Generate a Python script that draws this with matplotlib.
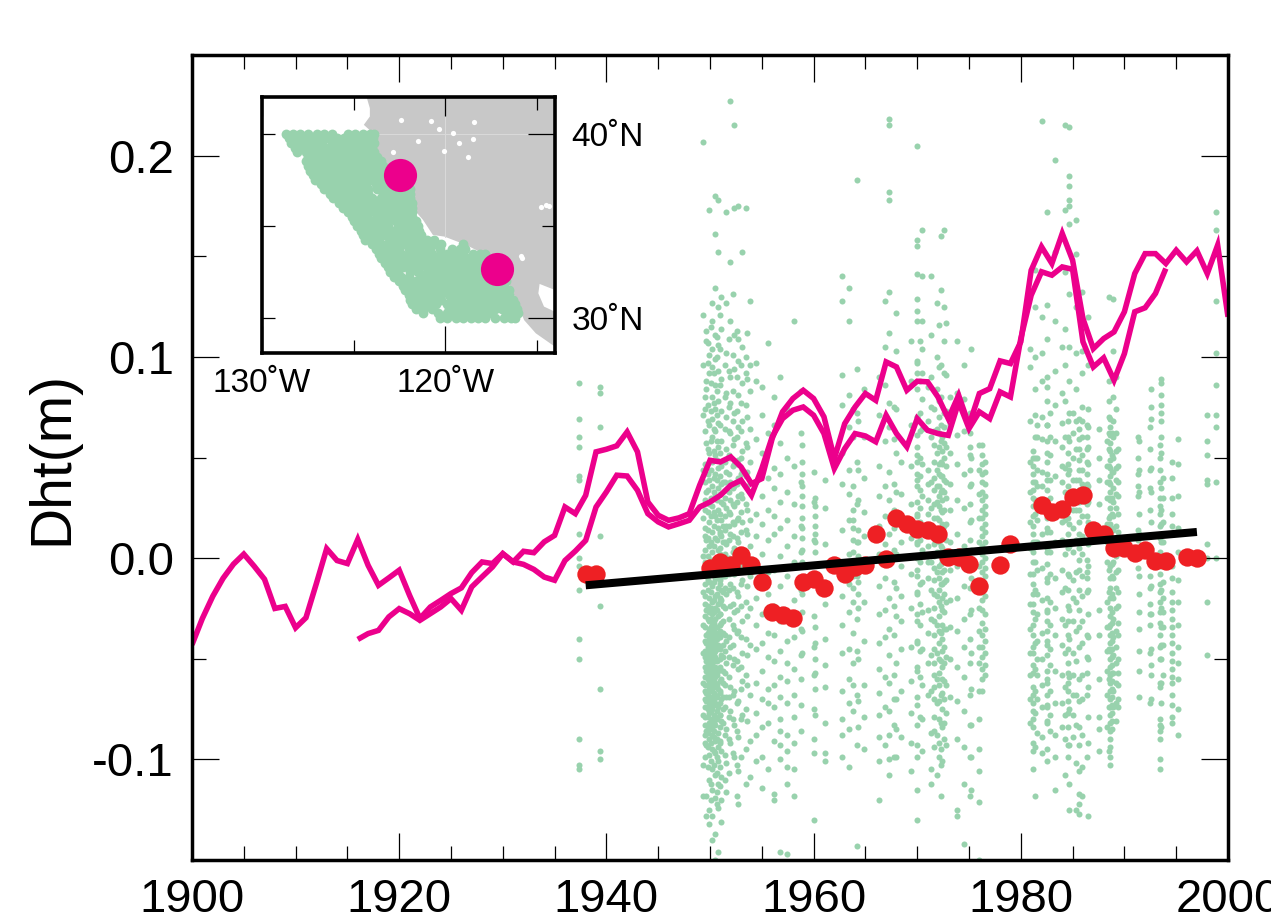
import numpy as np
import matplotlib
matplotlib.use("Agg")
import matplotlib.pyplot as plt
from matplotlib.ticker import MultipleLocator, FixedLocator, FixedFormatter

plt.rcParams['font.family'] = ['Liberation Sans', 'DejaVu Sans']

# yearly curves, metres
years_a = list(range(1900, 2001))
line_a = [-.043, -.030, -.019, -.010, -.003, .002, -.004, -.0105, -.025, -.024,
          -.0346, -.0296, -.0127, .0047, -.0012, -.0027, .0093, -.0036, -.0135, -.0098,
          -.006, -.0185, -.030, -.0243, -.021, -.0176, -.0148, -.0072, -.0019, -.0027,
          .0022, -.0019, .0034, .0027, .0081, .0113, .0254, .0221, .0312, .0528,
          .0541, .0558, .0627, .0528, .0279, .0213, .0188, .02, .0221, .0362,
          .0486, .0478, .0503, .0453, .037, .0395, .0594, .0727, .0793, .0834,
          .0793, .0702, .0495, .0668, .0751, .0818, .0784, .0975, .095, .0834,
          .0879, .0876, .0801, .0693, .0809, .066, .0818, .0842, .098, .0967,
          .1075, .143, .1547, .1464, .1613, .148, .119, .1041, .1091, .1124,
          .1224, .1414, .1513, .1513, .1464, .153, .1472, .1527, .1414, .1555, .1199]

years_b = list(range(1916, 1995))
line_b = [-.0404, -.0375, -.0359, -.0292, -.0251, -.0276, -.0309, -.0276, -.0243, -.0201,
          -.0259, -.0143, -.0093, -.0044, .0022, -.0019, -.0031, -.0056, -.0094, -.011,
          -.0012, .0035, .0088, .0254, .0329, .0412, .0408, .0337, .0221, .018,
          .0155, .0171, .0188, .0254, .0279, .0312, .0362, .0387, .0312, .0445,
          .0602, .0693, .0735, .0751, .071, .0619, .0445, .0544, .0619, .0607,
          .0578, .071, .0619, .0553, .0693, .0635, .0619, .061, .0776, .0644,
          .0727, .0693, .0826, .0801, .1091, .1306, .1423, .1406, .1447, .1435,
          .1075, .095, .0995, .0884, .1016, .1224, .1244, .1315, .1439]

red_years = [1938, 1939, 1950, 1951, 1952, 1953, 1954, 1955, 1956, 1957, 1958, 1959, 1960, 1961,
             1962, 1963, 1964, 1965, 1966, 1967, 1968, 1969, 1970, 1971, 1972, 1973, 1974, 1975,
             1976, 1978, 1979, 1982, 1983, 1984, 1985, 1986, 1987, 1988, 1989, 1990, 1991, 1992,
             1993, 1994, 1996, 1997]
red_vals = [-.0077, -.0077, -.005, -.002, -.0035, .0014, -.0035, -.0118, -.0267, -.0283, -.0296, -.0118,
            -.0105, -.0148, -.0035, -.0077, -.0044, -.0035, .0118, -.0003, .02, .0172, .0147, .0142,
            .0122, .0006, .0006, -.0027, -.0138, -.0032, .0072, .0262, .023, .0246, .0304, .0312,
            .0138, .0122, .0051, .0051, .0026, .0039, -.0016, -.0016, .0006, -.0001]

trend_years = [1938, 1997]
trend_vals = [-.0135, .013]

# tide gauge scatter, one column per sampling time, values in mm
green_years = [1937.4, 1939.4, 1949.3, 1949.6, 1949.9, 1950.2, 1950.5, 1950.8, 1951.1, 1951.5, 1951.9, 1952.3,
               1952.7, 1953.1, 1953.5, 1953.9, 1954.4, 1955.0, 1955.6, 1956.2, 1956.8, 1957.4, 1958.1, 1958.8,
               1960.0, 1961.1, 1962.7, 1963.4, 1964.2, 1964.9, 1966.3, 1966.9, 1967.3, 1968.0, 1969.4, 1970.0,
               1970.5, 1971.3, 1971.9, 1972.3, 1972.8, 1973.8, 1974.5, 1975.2, 1976.0, 1980.9, 1981.4, 1982.0,
               1982.5, 1983.3, 1984.3, 1984.7, 1985.3, 1985.9, 1986.5, 1988.5, 1988.9, 1989.2, 1991.4, 1992.6,
               1993.5, 1995.2, 1998.0, 1998.8]
green_mm = [
    [87, 69, 60, 55, 41, 39, 12, 0, -4, -16, -40, -50, -90, -103, -105],
    [85, 82, 65, 11, -24, -65, -96, -100],
    [207, 121, 96, 71, 44, 20, 1, -17, -33, -47, -62, -78, -103, -118],
    [113, 108, 88, 84, 57, 33, 9, -9, -26, -38, -42, -51, -56, -67, -71, -86, -93, -118, -128],
    [173, 101, 92, 66, 52, 39, 27, 18, 6, -3, -12, -20, -27, -31, -35, -39, -43, -45, -48, -52, -55, -58, -61, -64, -69, -73, -77, -82, -90, -98, -110, -125, -132],
    [127, 118, 104, 95, 80, 69, 60, 48, 36, 26, 13, 3, -5, -14, -22, -28, -33, -36, -40, -44, -47, -50, -53, -57, -60, -63, -66, -71, -75, -80, -84, -88, -95, -105, -115, -128, -140],
    [180, 161, 134, 111, 99, 86, 74, 63, 51, 42, 31, 21, 10, -1, -10, -19, -25, -30, -34, -38, -41, -46, -49, -54, -59, -62, -68, -72, -79, -83, -91, -97, -108, -119, -137, -150],
    [178, 152, 125, 106, 93, 78, 67, 55, 45, 35, 24, 15, 4, -7, -15, -23, -29, -37, -43, -56, -65, -74, -87, -94, -101, -112, -124, -146],
    [130, 114, 89, 73, 58, 46, 37, 28, 19, 11, -2, -16, -21, -32, -48, -60, -70, -81, -96, -109, -120, -131],
    [172, 127, 102, 82, 70, 54, 43, 34, 25, 16, 7, -6, -18, -41, -52, -69, -85, -102, -116],
    [227, 147, 118, 90, 77, 62, 50, 38, 29, 22, 12, -1, -13, -24, -44, -64, -76, -92],
    [215, 174, 111, 94, 72, 59, 47, 36, 26, 17, 5, -8, -27, -35, -50, -66, -83, -99],
    [175, 109, 98, 81, 65, 49, 40, 31, 20, 8, -5, -19, -36, -55, -71, -89, -106, -122],
    [152, 105, 87, 68, 53, 44, 30, 18, 2, -11, -31, -47, -61, -78],
    [174, 100, 92, 76, 57, 41, 27, 14, -3, -22, -40, -58, -75, -95, -112],
    [128, 96, 83, 64, 48, 33, 19, 6, -9, -25, -43, -68, -91, -109],
    [97, 88, 59, 38, 22, 11, -4, -20, -33, -45, -62, -77, -88, -101],
    [85, 71, 52, 31, 17, 2, -11, -28, -42, -56, -70, -84, -99, -114],
    [107, 62, 40, 24, 9, -7, -18, -37, -49, -65, -72, -82, -105],
    [80, 66, 45, 35, 21, 12, -6, -24, -38, -51, -63, -74, -91, -117, -120],
    [90, 57, 42, 28, 15, 1, -14, -31, -46, -59, -69, -80, -86, -93, -100, -146],
    [74, 50, 33, 19, 6, -9, -27, -41, -52, -61, -72, -88, -96, -104, -112, -147],
    [118, 46, 27, 11, -2, -21, -39, -55, -68, -79, -92, -105, -118],
    [83, 62, 38, 16, 3, -16, -35, -48, -60, -73, -86],
    [43, 28, 9, -12, -29, -44, -58, -75, -90, -97, -130],
    [39, 25, 7, -23, -40, -53, -64, -82, -97, -101],
    [140, 128, 91, 76, 52, 37, 14, -6, -19, -33, -47, -66, -80, -88, -99],
    [134, 118, 81, 65, 44, 32, 19, 2, -13, -27, -45, -60, -72, -85, -104],
    [188, 94, 72, 48, 27, 8, -9, -30, -46, -68, -93, -143],
    [84, 60, 40, 23, 11, -5, -22, -41, -63, -79, -95],
    [90, 71, 46, 31, 16, 2, -14, -28, -42, -55, -67, -78, -89, -101, -120],
    [128, 105, 86, 58, 36, 21, 7, -10, -26, -39, -59, -74, -93],
    [218, 215, 182, 178, 132, 112, 77, 65, 43, 29, 12, -3, -20, -35, -48, -62, -76, -88, -100, -108],
    [122, 103, 74, 52, 33, 19, 2, -15, -29, -52, -70, -85, -99],
    [108, 88, 66, 46, 27, 10, -8, -25, -44, -61, -77, -92, -106],
    [205, 155, 129, 97, 84, 70, 51, 39, 22, 8, -6, -18, -31, -42, -56, -69, -83, -99, -115, -130],
    [163, 140, 118, 104, 92, 79, 64, 47, 31, 16, 4, -12, -27, -45, -63, -80, -96],
    [140, 111, 90, 75, 60, 38, 25, 13, -2, -16, -30, -48, -66, -87, -105, -112],
    [127, 100, 84, 64, 52, 44, 36, 28, 20, 12, 3, -7, -19, -33, -47, -60, -72, -88, -108],
    [160, 133, 96, 80, 66, 58, 48, 41, 33, 24, 15, 6, -3, -13, -24, -37, -51, -68, -82, -95, -103, -118],
    [117, 91, 73, 55, 46, 38, 30, 17, 9, -1, -11, -22, -35, -49, -63, -77, -93],
    [108, 82, 61, 47, 29, 12, -4, -20, -36, -54, -71, -90, -125, -128],
    [96, 79, 63, 42, 25, 6, -14, -30, -44, -59, -76, -94, -112, -142],
    [104, 68, 50, 37, 19, 4, -10, -26, -47, -65, -83, -99, -115],
    [56, 44, 32, 20, 8, -4, -12, -25, -36, -44, -52, -66, -80, -95, -106, -121, -150],
    [104, 95, 68, 48, 33, 18, 5, -8, -23, -35, -47, -58, -70, -82],
    [143, 125, 100, 84, 71, 60, 50, 38, 29, 22, 8, -2, -16, -30, -42, -55, -66, -77, -94, -118],
    [217, 120, 102, 88, 70, 59, 43, 36, 26, 12, -5, -21, -37, -50, -63, -74, -89, -97],
    [172, 126, 109, 85, 66, 52, 39, 27, 15, 3, -12, -27, -41, -60, -73, -82, -95, -101],
    [198, 152, 118, 93, 76, 58, 41, 25, 8, -10, -25, -38, -56, -72, -88, -99, -115],
    [215, 173, 142, 114, 96, 78, 60, 45, 33, 19, 2, -15, -33, -47, -64, -78, -90, -108],
    [214, 190, 185, 178, 175, 166, 131, 105, 88, 72, 58, 44, 31, 17, 6, -9, -26, -40, -59, -75, -93, -112, -125],
    [168, 151, 125, 102, 84, 68, 54, 39, 24, 9, -7, -22, -36, -51, -68, -83, -102, -125],
    [132, 103, 92, 75, 68, 60, 51, 44, 37, 29, 21, 11, 2, -9, -19, -31, -42, -58, -70, -88, -104, -118],
    [120, 96, 74, 65, 55, 47, 36, 28, 18, 7, -4, -16, -28, -39, -50, -64, -79, -92, -128],
    [130, 88, 78, 70, 62, 54, 46, 38, 30, 20, 12, 4, -6, -17, -34, -45, -60, -74, -96],
    [129, 103, 80, 68, 60, 50, 43, 35, 28, 21, 14, 6, -2, -10, -20, -30, -39, -48, -57, -66, -74],
    [90, 74, 62, 53, 45, 39, 32, 25, 16, 9, 1, -7, -15, -25, -36, -44, -52, -62, -72, -81],
    [58, 44, 33, 22, 12, 2, -9, -18, -27, -35, -46, -56, -69],
    [84, 75, 69, 45, 33, 18, 5, -14, -28, -45, -53, -58, -70],
    [89, 87, 81, 76, 72, 68, 60, 52, 35, 24, 17, 8, -4, -16, -25, -34, -43, -50, -62, -72, -84],
    [59, 47, 31, 15, 3, -11, -22, -33, -44, -52, -60, -75, -88],
    [71, 58, 51, 39, 37, 7, 0, -22, -48],
    [172, 163, 128, 102, 86, 71, 65, 38, 0],
]

# second pass over the denser stretches
green_years2 = [1949.5, 1949.8, 1950.1, 1950.4, 1950.7, 1950.95, 1951.0, 1951.25, 1951.4, 1951.8, 1952.2, 1952.6, 1953.0, 1953.6,
                1958.85, 1960.1, 1963.8, 1964.3, 1967.8, 1968.4, 1970.0, 1970.3, 1971.0, 1971.6, 1972.1, 1972.4, 1972.6, 1973.2,
                1975.1, 1976.3, 1976.5, 1981.2, 1981.6, 1982.5, 1982.8, 1984.0, 1984.6, 1985.0, 1985.6, 1986.4,
                1987.5, 1988.3, 1988.6, 1988.8, 1989.4, 1991.3, 1992.5, 1993.4, 1993.7, 1994.6]
green_mm2 = [
    [80, 74, 63, 47, 38, 29, 24, 15, 11, 4, -2, -6, -13, -19, -23, -29, -34, -41, -46, -49, -54, -59, -63, -66, -70, -74, -79, -83, -88, -92, -99],
    [107, 97, 76, 68, 54, 42, 34, 23, 14, 10, 1, -5, -11, -16, -24, -30, -37, -41, -44, -47, -50, -53, -57, -60, -63, -66, -68, -71, -75, -79, -84, -87, -94, -104],
    [115, 87, 73, 58, 44, 30, 21, 8, -1, -8, -17, -25, -30, -34, -38, -42, -46, -49, -52, -55, -59, -62, -65, -69, -72, -76, -81, -85, -92, -101, -112, -120],
    [92, 77, 64, 53, 40, 33, 23, 16, 6, -4, -12, -21, -27, -32, -36, -39, -43, -47, -51, -56, -61, -64, -67, -70, -73, -78, -82, -86, -89, -96, -103],
    [110, 100, 83, 71, 58, 49, 39, 29, 19, 9, 0, -10, -18, -26, -34, -40, -45, -51, -58, -63, -69, -76, -80, -90, -99, -107, -116, -122],
    [12, 2, -6, -13, -22, -28, -33, -39, -44, -50, -55, -61, -66, -72, -78, -84, -91],
    [121, 104, 86, 66, 52, 41, 32, 22, 13, 5, -4, -11, -20, -28, -36, -45, -54, -67, -78, -92, -104, -113],
    [38, 27, 16, 8, -1, -9, -17, -24, -31, -37, -43, -49, -56, -62, -69, -75, -82],
    [96, 80, 64, 48, 38, 30, 21, 14, 8, 2, -9, -15, -25, -38, -46, -57, -63, -74, -88, -98, -110],
    [109, 93, 75, 63, 51, 42, 33, 23, 16, 9, 0, -8, -16, -30, -39, -49, -59, -69, -79, -90, -107],
    [131, 101, 83, 68, 56, 46, 35, 27, 18, 11, 3, -4, -15, -23, -33, -43, -53, -68, -80, -97],
    [113, 90, 73, 60, 47, 37, 28, 19, 10, 2, -7, -17, -26, -37, -51, -72, -86, -103, -118],
    [96, 77, 63, 50, 42, 32, 23, 13, 4, -3, -13, -24, -39, -54, -65, -80, -99],
    [112, 89, 70, 55, 43, 36, 24, 12, -1, -14, -29, -48, -63, -81],
    [56, 48, 42, 36, 31, 26, 20, 15, 10, 4, -2, -10, -18, -27, -36, -47],
    [30, 26, 21, 16, 12, 8, 3, -34, -42, -50, -57, -65, -78],
    [74, 60, 36, 24, 19, 15, 9, 3, -2, -9, -15, -22, -37, -52, -63, -76],
    [68, 44, 29, 14, 8, 1, -12, -18, -25, -50, -71, -84],
    [75, 59, 37, 24, 15, 4, -12, -24, -38, -58, -70, -83, -99],
    [48, 32, 18, 8, -4, -19, -31, -45, -66, -89],
    [158, 141, 123, 118, 98, 92, 70, 61, 55, 48, 42, 36, 28, 21, 14, 7, 0, -9, -17, -28, -41, -54, -73, -93],
    [108, 88, 72, 63, 50, 41, 34, 25, 18, 9, -2, -13, -23, -33, -46, -59, -79],
    [85, 68, 44, 37, 29, 22, 14, 6, -2, -10, -26, -37, -52, -68],
    [74, 63, 56, 48, 40, 34, 27, 20, 13, 7, 1, -5, -11, -18, -25, -31, -38, -45, -52, -58, -64, -70, -79, -86, -94],
    [116, 95, 78, 70, 62, 55, 47, 42, 36, 31, 26, 19, 14, 8, 2, -4, -10, -16, -22, -29, -36, -42, -50, -57, -63, -71, -80, -92, -99],
    [60, 53, 47, 41, 34, 29, 23, 17, 11, 5, -1, -7, -13, -20, -26, -33, -40, -46, -54, -60, -67, -75, -84, -101],
    [163, 125, 108, 92, 72, 65, 57, 50, 39, 33, 24, 16, 10, 3, -6, -12, -18, -27, -35, -44, -52, -61, -70, -82, -90],
    [80, 66, 52, 37, 24, 8, -6, -21, -34, -50, -69],
    [72, 62, 55, 51, 44, 36, 27, 18, 9, -2, -15, -28, -40, -52, -68, -83, -99, -118],
    [56, 51, 47, 42, 38, 33, 29, 24, 20, 15, 11, 6, 2, -2, -7, -12, -17, -21, -26, -32, -38, -44, -49, -55, -60, -66],
    [48, 43, 37, 31, 26, 22, 17, 13, 8, 4, 0, -5, -9, -14, -19, -28, -35, -41, -47, -53, -58],
    [53, 50, 46, 42, 38, 34, 30, 26, 21, 16, 12, 8, 3, -2, -8, -13, -18, -23, -27, -33, -38, -44, -47, -53, -57, -64, -68, -72, -76, -80, -84, -92, -96, -105],
    [66, 60, 50, 44, 36, 28, 19, 8, -6, -18, -28, -41, -50, -58, -70, -87],
    [90, 78, 66, 58, 48, 42, 34, 27, 20, 13, 5, -3, -10, -20, -26, -31, -36, -43, -48, -56, -62, -68, -74, -81],
    [72, 60, 51, 39, 30, 22, 13, 3, -8, -22, -33, -45, -53, -66, -78, -86],
    [105, 82, 67, 55, 46, 38, 27, 18, 9, -6, -17, -30, -43, -58, -72, -84],
    [68, 60, 52, 47, 42, 36, 28, 20, 12, 5, -8, -16, -24, -31, -38, -45, -52, -57, -62, -66, -71, -77, -84, -93, -99],
    [72, 62, 50, 39, 24, 15, 3, -11, -20, -31, -47, -58, -68, -78, -89],
    [69, 64, 59, 54, 49, 44, 39, 34, 28, 24, 18, 12, 5, -1, -6, -16, -26, -34, -44, -60, -71, -84, -93, -106, -117, -122, -127],
    [66, 60, 54, 48, 42, 37, 32, 27, 21, 14, 8, -1, -7, -10, -17, -38, -49, -57, -68, -99],
    [64, 50, 39, 27, 12, -26, -38, -60, -79, -85, -96],
    [58, 46, 38, 30, 17, 8, -2, -22, -34, -46, -56, -68, -84],
    [69, 65, 61, 57, 53, 49, 45, 41, 37, 33, 29, 25, 21, 17, 13, 9, 5, -4, -10, -15, -20, -25, -29, -33, -38, -42, -46, -50, -54, -58, -62, -66, -70, -74, -78, -82, -86, -90, -94, -99, -103],
    [62, 51, 43, 30, 22, 15, 7, -3, -9, -18, -27, -32, -37, -41, -45, -49, -53, -57, -61, -65, -69, -73, -77, -81, -85],
    [54, 46, 38, 31, 22, 13, 3, -6, -17, -24, -32, -38, -50, -57, -63, -70, -74],
    [60, 50, 42, 36, 31, 14, 9, 3, -5],
    [65, 54, 44, 35, 24, -1, -9, -15, -23, -28, -33, -47, -72],
    [56, 50, 44, 38, 30, 26, 22, 16, 10, 3, -8, -13, -17, -22, -27, -32, -38, -44, -50, -62, -64, -80, -83, -86, -90, -100, -105],
    [40, 30, 18, 8, -4, -12, -20, -27, -34, -43, -58],
    [48, 40, 30, 22, 16, -4, -10, -17, -22, -26, -30, -34, -38, -42, -47, -51, -55, -59, -62, -68, -73, -79, -82],
]

# inset stations, lons grouped by lat row
station_lats = [40.0, 39.75, 39.5, 39.25, 39.0, 38.75, 38.5, 38.25, 38.0, 37.75, 37.5, 37.25, 37.0, 36.75, 36.5, 36.25, 36.0,
                35.75, 35.5, 35.25, 35.0, 34.75, 34.5, 34.25, 34.0, 33.75, 33.5, 33.25, 33.0, 32.75, 32.5, 32.25, 32.0,
                31.75, 31.5, 31.25, 31.0, 30.75, 30.5, 30.25, 30.0]
station_lons = [
    [-128.7, -128.3, -127.9, -127.5, -127.0, -126.6, -126.2, -125.3, -124.9, -124.5, -124.1, -123.9],
    [-128.5, -128.1, -127.7, -127.2, -126.8, -126.4, -125.9, -125.5, -125.1, -124.7, -124.3, -123.95],
    [-128.4, -128.0, -127.5, -127.1, -126.7, -126.2, -125.9, -125.4, -125.0, -124.6, -124.2, -123.9],
    [-128.2, -127.8, -127.3, -126.9, -126.5, -126.1, -125.7, -125.2, -124.8, -124.4, -124.0],
    [-128.1, -127.6, -127.2, -126.9, -126.4, -126.0, -125.5, -125.1, -124.7, -124.3, -123.9],
    [-127.5, -127.1, -126.6, -126.2, -125.8, -125.3, -124.9, -124.5, -124.1, -123.7],
    [-127.6, -127.3, -126.8, -126.5, -126.0, -125.6, -125.2, -124.8, -124.3, -123.9, -123.5],
    [-127.5, -127.1, -126.7, -126.3, -125.9, -125.4, -125.0, -124.6, -124.2, -123.7, -123.4],
    [-127.4, -127.0, -126.6, -126.1, -125.7, -125.3, -124.9, -124.4, -124.0, -123.6, -123.2],
    [-127.2, -126.8, -126.4, -125.9, -125.5, -125.1, -124.7, -124.2, -123.8, -123.4],
    [-127.1, -126.7, -126.2, -125.8, -125.4, -125.0, -124.5, -124.1, -123.7, -123.3, -122.8],
    [-126.8, -126.4, -126.0, -125.6, -125.1, -124.7, -124.3, -123.8, -123.4, -123.0, -122.6],
    [-126.6, -126.2, -125.8, -125.4, -124.9, -124.5, -124.2, -123.7, -123.3, -122.9, -122.5, -122.1, -121.9],
    [-126.3, -125.9, -125.5, -125.1, -124.6, -124.2, -123.4, -123.0, -122.6, -122.2, -121.9],
    [-126.1, -125.7, -125.3, -124.8, -124.4, -124.0, -123.5, -123.2, -122.7, -122.3, -121.9],
    [-125.8, -125.4, -125.0, -124.6, -124.1, -123.7, -123.3, -122.9, -122.5, -122.1, -121.8],
    [-125.6, -125.2, -124.7, -124.3, -123.8, -123.5, -123.0, -122.6, -122.2, -121.8],
    [-125.3, -124.9, -124.5, -124.1, -123.7, -123.3, -122.8, -122.4, -122.0, -121.8],
    [-125.1, -124.6, -124.3, -123.7, -123.3, -122.9, -122.5, -122.1, -121.8],
    [-125.0, -124.5, -124.0, -123.5, -123.1, -122.7, -122.3, -121.9, -121.6],
    [-124.8, -124.4, -123.9, -123.5, -123.1, -122.6, -122.2, -121.8, -121.5],
    [-124.6, -124.2, -123.7, -123.4, -123.2, -122.8, -122.4, -122.0, -121.6, -121.4],
    [-124.5, -124.1, -123.7, -123.3, -123.0, -122.7, -122.3, -121.9, -121.5, -121.3],
    [-124.4, -124.0, -123.6, -123.0, -122.5, -122.1, -121.7, -121.3, -121.0, -120.6],
    [-124.0, -123.6, -123.2, -122.7, -122.3, -121.8, -121.4, -121.0, -120.5, -120.2, -119.0],
    [-123.8, -123.4, -123.0, -122.5, -122.0, -121.6, -121.2, -120.8, -120.3, -119.6, -119.2, -118.9],
    [-123.6, -123.2, -122.8, -122.4, -122.0, -121.5, -121.1, -120.7, -120.2, -119.9, -119.4, -119.0, -118.5, -118.1, -117.8],
    [-123.5, -123.0, -122.6, -122.2, -121.8, -121.3, -120.9, -120.5, -120.1, -119.7, -119.2, -118.8, -118.3, -117.9],
    [-123.3, -122.8, -122.5, -122.0, -121.6, -121.2, -120.7, -120.3, -119.9, -119.4, -119.0, -118.6, -118.2, -117.7],
    [-123.1, -122.7, -122.3, -121.8, -121.4, -121.0, -120.5, -120.1, -119.7, -119.2, -118.8, -118.4, -118.0, -117.5],
    [-123.0, -122.6, -121.9, -121.5, -121.0, -120.6, -120.2, -119.8, -119.3, -118.9, -118.5, -118.1, -117.6, -117.2],
    [-122.8, -122.4, -122.0, -121.3, -120.9, -120.5, -120.0, -119.6, -119.2, -118.8, -118.3, -117.9, -117.5, -117.0],
    [-122.5, -122.1, -121.6, -121.2, -120.8, -120.4, -119.9, -119.5, -119.1, -118.7, -118.2, -117.8, -117.4, -116.9, -116.7],
    [-122.3, -121.9, -121.4, -121.0, -120.6, -120.2, -119.8, -119.4, -118.9, -118.5, -118.1, -117.7, -117.2, -116.8],
    [-122.2, -121.7, -121.3, -120.9, -120.4, -120.1, -119.6, -119.2, -118.8, -118.3, -117.9, -117.5, -117.1, -116.7, -116.5],
    [-122.0, -121.6, -121.2, -120.7, -120.3, -119.8, -119.4, -119.0, -118.6, -118.1, -117.7, -117.3, -116.9, -116.5],
    [-121.9, -121.5, -121.0, -120.6, -120.2, -119.7, -119.2, -118.9, -118.4, -118.0, -117.6, -117.2, -116.8, -116.3],
    [-121.8, -121.3, -120.9, -120.5, -119.9, -119.4, -119.0, -118.6, -118.2, -117.8, -117.4, -117.0, -116.6, -116.2],
    [-121.6, -121.2, -120.7, -119.8, -119.4, -119.0, -118.6, -118.2, -117.7, -117.3, -116.9, -116.5, -116.1],
    [-121.2, -120.4, -119.9, -119.5, -119.2, -118.8, -118.4, -118.0, -117.5, -116.7, -116.3, -116.0],
    [-120.3, -119.9, -119.4, -119.0, -118.6, -118.2, -117.8, -117.3, -116.8, -116.4, -116.2],
]

coast_lon = [-124.29, -124.11, -124.11, -124.44, -123.84, -123.84, -123.57, -123.39, -121.85, -121.76, -121.21, -120.67,
             -120.04, -118.86, -117.95, -116.59, -115.96, -115.69, -115.05, -114.0, -114.0, -114.6, -114.91, -114.84,
             -114.0, -114.0]
coast_lat = [42.0, 41.39, 40.94, 40.49, 39.95, 39.31, 38.68, 37.86, 36.78, 35.96, 35.33, 34.51, 34.42, 33.97, 33.51, 32.07,
             30.62, 29.89, 29.17, 28.44, 30.34, 30.62, 31.34, 31.85, 31.52, 42.0]
lake_lon = [-120.04, -119.58, -120.31, -118.77, -118.41, -121.49, -122.84, -122.39, -120.76, -119.22, -118.5, -114.51,
            -114.78, -114.33, -115.87, -115.78]
lake_lat = [39.09, 40.07, 40.25, 38.73, 40.62, 39.62, 39.04, 40.76, 40.67, 39.49, 39.71, 36.14, 36.05, 36.09, 33.38, 33.28]
site_lon = [-122.48, -117.19]
site_lat = [37.77, 32.68]

green = '#98D2AD'
pink = '#EC008C'
red = '#EE2024'

W, H = 1271, 915
fig = plt.figure(figsize=(W / 100, H / 100), dpi=100)
ax = fig.add_axes([192 / W, (H - 860) / H, 1036 / W, 805 / H])

for yr, vals in zip(green_years + green_years2, green_mm + green_mm2):
    ax.scatter([yr] * len(vals), np.array(vals) / 1000, s=19, color=green, linewidths=0, zorder=1)
ax.plot(years_a, line_a, color=pink, lw=4.0, solid_joinstyle='miter', solid_capstyle='butt', zorder=2)
ax.plot(years_b, line_b, color=pink, lw=4.0, solid_joinstyle='miter', solid_capstyle='butt', zorder=2)
ax.scatter(red_years, red_vals, s=175, color=red, linewidths=0, zorder=3)
ax.plot(trend_years, trend_vals, color='black', lw=5.8, solid_capstyle='butt', zorder=4)

ax.set_xlim(1900, 2000)
ax.set_ylim(-0.15, 0.25)
ax.xaxis.set_major_locator(MultipleLocator(20))
ax.xaxis.set_minor_locator(MultipleLocator(5))
ax.yaxis.set_major_locator(FixedLocator([-0.1, 0.0, 0.1, 0.2]))
ax.yaxis.set_major_formatter(FixedFormatter(['-0.1', '0.0', '0.1', '0.2']))
ax.yaxis.set_minor_locator(MultipleLocator(0.05))
ax.tick_params(which='major', direction='in', length=19.5, width=0.9, top=True, right=True, labelsize=34)
ax.tick_params(which='minor', direction='in', length=10, width=0.9, top=True, right=True)
ax.tick_params(axis='x', which='major', pad=13)
ax.tick_params(axis='y', which='major', pad=13)
for s in ax.spines.values():
    s.set_linewidth(2.5)
ax.set_ylabel('Dht(m)', fontsize=41)
ax.yaxis.set_label_coords((79 - 192) / 1036, (860 - 458) / 805)

# inset map
axi = fig.add_axes([262 / W, (H - 353) / H, 293 / W, 256 / H], zorder=5)
axi.set_facecolor('white')
axi.fill(coast_lon, coast_lat, color='#C8C8C8', linewidth=0, zorder=1)
axi.plot([-120, -120], [34.42, 42], color='#DADADA', lw=0.7, zorder=1.5)
axi.plot([-123.84, -114], [40, 40], color='#DADADA', lw=0.7, zorder=1.5)
axi.scatter(lake_lon, lake_lat, s=14, color='white', linewidths=0, zorder=2)
for lat, lons in zip(station_lats, station_lons):
    axi.scatter(lons, [lat] * len(lons), s=50, color=green, linewidths=0, zorder=3)
axi.scatter(site_lon, site_lat, s=570, color=pink, linewidths=0, zorder=4)
axi.set_xlim(-130, -114)
axi.set_ylim(28.1, 42)
axi.xaxis.set_major_locator(FixedLocator([-130, -120]))
axi.xaxis.set_major_formatter(FixedFormatter(['130˚W', '120˚W']))
axi.xaxis.set_minor_locator(FixedLocator([-125, -115]))
axi.yaxis.set_major_locator(FixedLocator([30, 40]))
axi.yaxis.set_major_formatter(FixedFormatter(['30˚N', '40˚N']))
axi.yaxis.set_minor_locator(FixedLocator([35]))
axi.tick_params(which='major', direction='in', length=19.5, width=0.9, top=True, right=True, left=True, labelsize=24,
                labelleft=False, labelright=True)
axi.tick_params(which='minor', direction='in', length=9.5, width=0.9, top=True, right=True, left=True)
axi.tick_params(axis='x', which='major', pad=11)
axi.tick_params(axis='y', which='major', pad=12)
for t in axi.yaxis.get_major_ticks():
    t.tick1line.set_markersize(9.5)
for t in axi.xaxis.get_major_ticks():
    t.tick2line.set_markersize(14)
for s in axi.spines.values():
    s.set_linewidth(2.6)

fig.savefig('out.png', dpi=100)
